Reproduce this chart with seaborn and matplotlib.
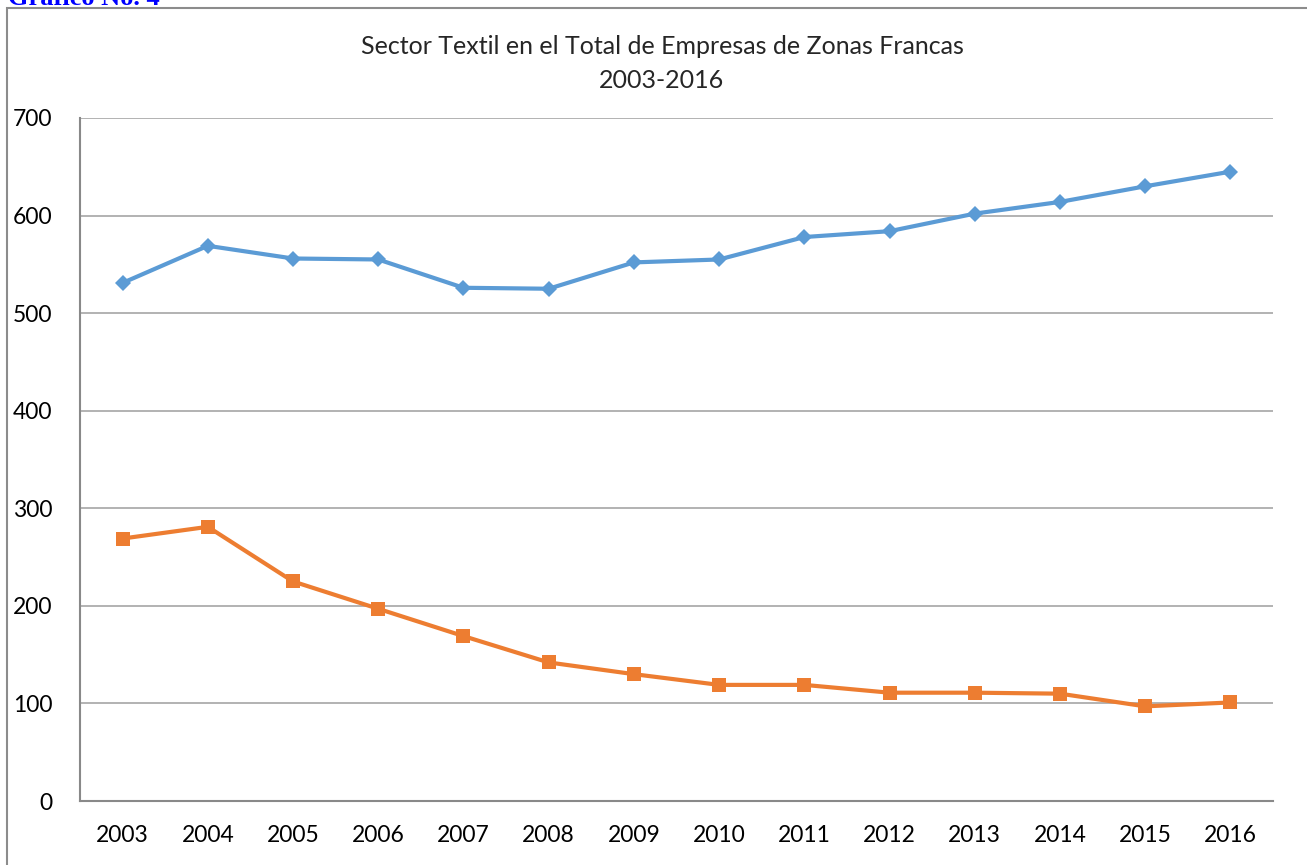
import matplotlib
matplotlib.use("Agg")
import matplotlib.pyplot as plt
import seaborn as sns
import pandas as pd
from matplotlib.patches import Rectangle

years = list(range(2003, 2017))
total_empresas = [531, 569, 556, 555, 526, 525, 552, 555, 578, 584, 602, 614, 630, 645]
sector_textil = [269, 281, 225, 197, 169, 142, 130, 119, 119, 111, 111, 110, 97, 101]

df = pd.DataFrame({"year": years, "total": total_empresas, "textil": sector_textil})

sns.set_style("white")
plt.rcParams['font.family'] = ['Lato', 'DejaVu Sans']

W, H = 1307, 865
fig = plt.figure(figsize=(W / 100, H / 100), dpi=100)
ax = fig.add_axes([80 / W, 1 - 801 / H, (1273 - 80) / W, (801 - 118) / H])

sns.lineplot(data=df, x="year", y="total", ax=ax, color="#5b9bd5", linewidth=3,
             marker="D", markersize=8, markeredgewidth=0)
sns.lineplot(data=df, x="year", y="textil", ax=ax, color="#ed7d31", linewidth=3,
             marker="s", markersize=10, markeredgewidth=0)

ax.set_xlim(2002.5, 2016.5)
ax.set_ylim(0, 700)
ax.set_xticks(years)
ax.set_yticks(range(0, 701, 100))
ax.set_xlabel("")
ax.set_ylabel("")
ax.grid(axis="y", color="#a6a6a6", linewidth=1.2)
ax.set_axisbelow(True)
ax.tick_params(axis="both", length=0, labelsize=16.5, colors="black")
ax.tick_params(axis="x", pad=17)
ax.tick_params(axis="y", pad=20)
for s in ["top", "right"]:
    ax.spines[s].set_visible(False)
for s in ["left", "bottom"]:
    ax.spines[s].set_color("#898989")
    ax.spines[s].set_linewidth(1.5)

fig.text(662 / W, 1 - 47 / H, "Sector Textil en el Total de Empresas de Zonas Francas",
         ha="center", va="center", fontsize=18)
fig.text(662 / W, 1 - 80 / H, "2003-2016", ha="center", va="center", fontsize=18)

# outer chart frame (cut at right and bottom)
fig.add_artist(Rectangle((7 / W, -0.05), 1.2, 1 - 8 / H + 0.05, transform=fig.transFigure,
                         fill=False, edgecolor="#8c8c8c", linewidth=1.5))

# caption cut off at top of the page, as in the source
fig.text(8 / W, 1 - 5 / H, "Gráfico No. 4", ha="left", va="baseline", fontsize=19,
         fontweight="bold", color="#0000ff", family=["Liberation Serif", "DejaVu Serif"])

fig.savefig("out.png", dpi=100)
